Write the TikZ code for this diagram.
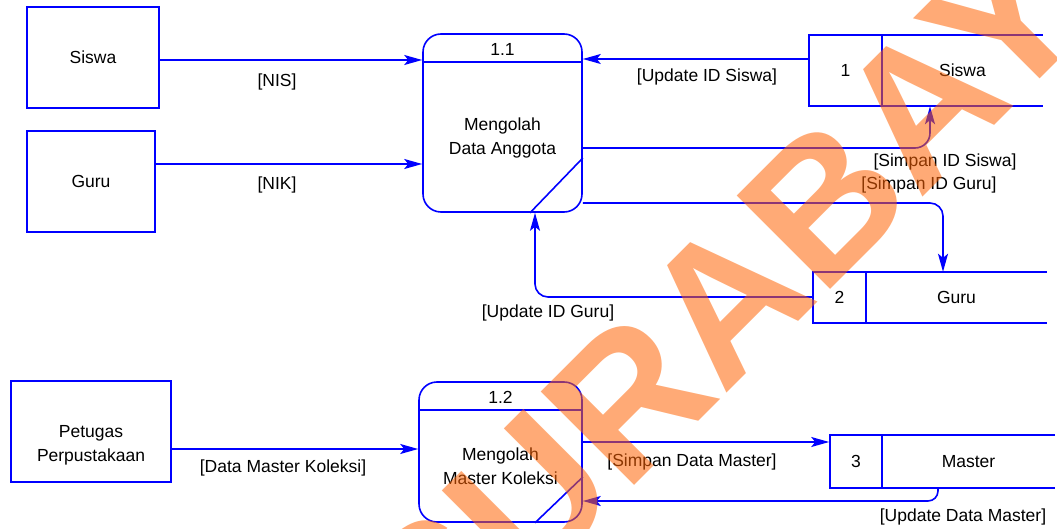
\documentclass[tikz,border=0pt]{standalone}
\usepackage{fontspec}
\setmainfont{Liberation Sans}
\usetikzlibrary{arrows.meta}
\definecolor{dfdblue}{RGB}{0,0,255}
\definecolor{wmorange}{RGB}{255,100,5}

\begin{document}
\begin{tikzpicture}[x=1pt,y=-1pt,
  font=\fontsize{17.5}{24}\selectfont,
  lw/.style={line width=1.6pt},
  entity/.style={draw=dfdblue, lw, rectangle, inner sep=0pt, align=center},
  proc/.style={draw=dfdblue, lw, rectangle, rounded corners=18pt, inner sep=0pt},
  cell/.style={draw=dfdblue, lw, rectangle, inner sep=0pt},
  slot/.style={rectangle, inner sep=0pt},
  dfdline/.style={draw=dfdblue, lw},
  flow/.style={draw=dfdblue, lw, -{Stealth[length=18pt,width=10pt,inset=4pt]}},
  lbl/.style={inner sep=0pt, text=black},
]
\useasboundingbox (0,0) rectangle (1057,529);

% external entities
\node[entity, minimum width=132pt, minimum height=101pt] (siswa) at (93,57.5) {Siswa};
\node[entity, minimum width=128pt, minimum height=101pt] (guru) at (91,181.5) {Guru};
\node[entity, minimum width=160pt, minimum height=101pt] (petugas) at (91,431.5) {};
\node[lbl, align=center] (petugastxt) at (91,445) {Petugas\\Perpustakaan};

% process 1.1
\node[proc, minimum width=159pt, minimum height=178pt] (p11) at (502.5,123) {};
\draw[dfdline] ([yshift=-29pt]p11.north west) -- ([yshift=-29pt]p11.north east);
\draw[dfdline] (p11.east |- 0,158) -- (p11.south -| 530,0);
\node[lbl] (p11id) at (502.5,49) {1.1};
\node[lbl, align=center] (p11txt) at (502.5,137.5) {Mengolah\\Data Anggota};

% process 1.2
\node[proc, minimum width=163pt, minimum height=140pt] (p12) at (500.5,452) {};
\draw[dfdline] ([yshift=-29pt]p12.north west) -- ([yshift=-29pt]p12.north east);
\draw[dfdline] (p12.east |- 0,477) -- (p12.south -| 535,0);
\node[lbl] (p12id) at (500.5,397) {1.2};
\node[lbl, align=center] (p12txt) at (500.5,466.5) {Mengolah\\Master Koleksi};

% data stores
\node[cell, minimum width=73pt, minimum height=71pt] (d1) at (845.5,70.5) {1};
\node[slot, minimum width=161pt, minimum height=71pt] (d1n) at (962.5,70.5) {Siswa};
\draw[dfdline] (d1n.north west) -- (d1n.north east) (d1n.south west) -- (d1n.south east);

\node[cell, minimum width=53pt, minimum height=51pt] (d2) at (839.5,297.5) {2};
\node[slot, minimum width=181pt, minimum height=51pt] (d2n) at (956.5,297.5) {Guru};
\draw[dfdline] (d2n.north west) -- (d2n.north east) (d2n.south west) -- (d2n.south east);

\node[cell, minimum width=52pt, minimum height=53pt] (d3) at (856,461.5) {3};
\node[slot, minimum width=173pt, minimum height=53pt] (d3n) at (968.5,461.5) {Master};
\draw[dfdline] (d3n.north west) -- (d3n.north east) (d3n.south west) -- (d3n.south east);

% data flows
\draw[flow] (siswa.east |- 0,60) -- (p11.west |- 0,60);
\draw[flow] (guru.east |- 0,164) -- (p11.west |- 0,164);
\draw[flow] (d1.west |- 0,59) -- (p11.east |- 0,59);
\draw[flow, rounded corners=15pt] (p11.east |- 0,148) -| (d1n.south -| 930,0);
\draw[flow, rounded corners=13pt] (p11.east |- 0,203) -| (d2n.north -| 943,0);
\draw[flow, rounded corners=13pt] (d2.west |- 0,297) -| (p11.south -| 535,0);
\draw[flow] (petugas.east |- 0,449) -- (p12.west |- 0,449);
\draw[flow] (p12.east |- 0,442) -- (d3.west |- 0,442);
\draw[flow, rounded corners=10pt] (d3n.south -| 938,0) |- (p12.east |- 0,501);

% flow labels
\node[lbl] (lnis) at (277,82) {[NIS]};
\node[lbl] (lnik) at (277,185) {[NIK]};
\node[lbl] (lupsiswa) at (707,77) {[Update ID Siswa]};
\node[lbl] (lsimsiswa) at (945,162) {[Simpan ID Siswa]};
\node[lbl] (lsimguru) at (929,185) {[Simpan ID Guru]};
\node[lbl] (lupguru) at (548,313) {[Update ID Guru]};
\node[lbl] (lkoleksi) at (283,468) {[Data Master Koleksi]};
\node[lbl] (lsimmaster) at (692,462) {[Simpan Data Master]};
\node[lbl] (lupmaster) at (963,517) {[Update Data Master]};

% watermark
\node[rotate=45, text=wmorange, text opacity=0.55, inner sep=0pt,
      font=\fontsize{192}{192}\selectfont\bfseries] (wm) at (762,264) {SURABAYA};
\end{tikzpicture}
\end{document}
